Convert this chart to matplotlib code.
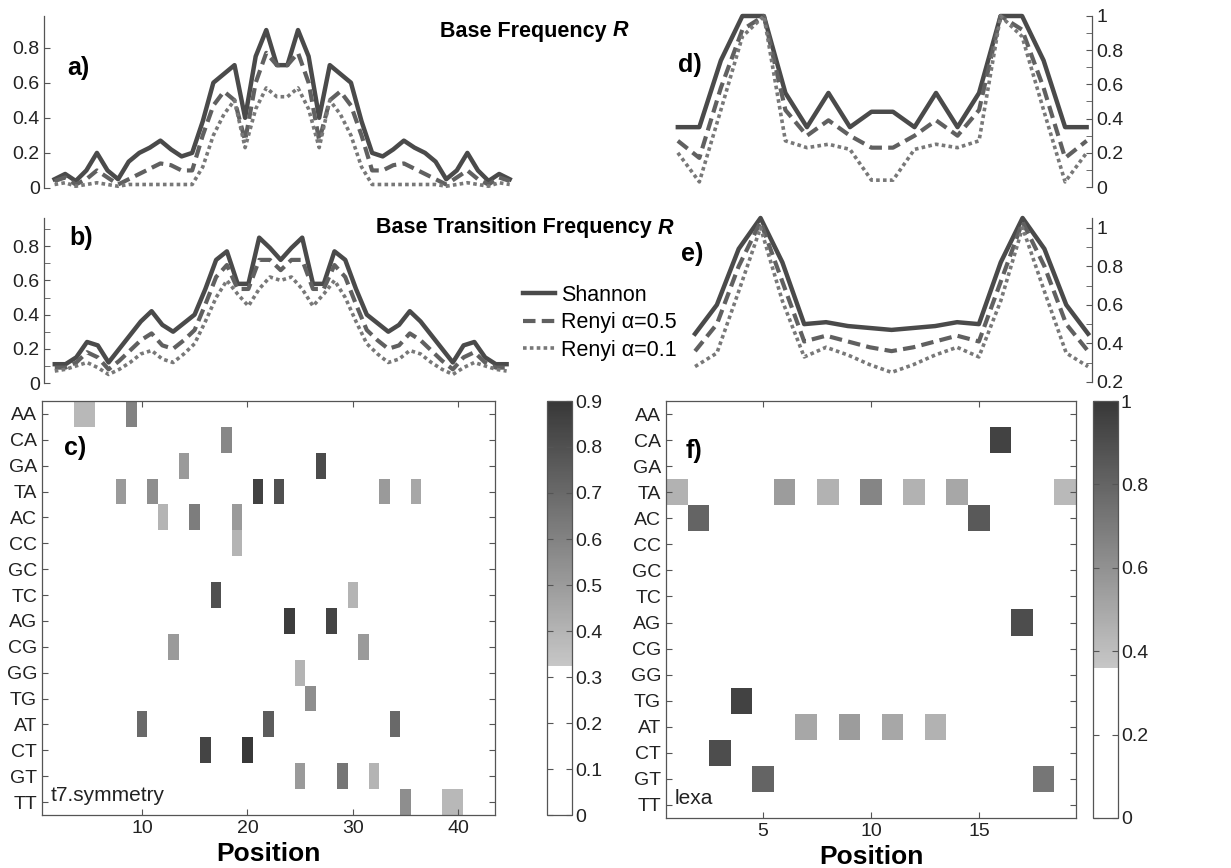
import numpy as np
import matplotlib
matplotlib.use('Agg')
import matplotlib.pyplot as plt
from matplotlib.colors import ListedColormap
from matplotlib.ticker import FuncFormatter, MultipleLocator

plt.rcParams['font.family'] = ['Liberation Sans', 'DejaVu Sans']

# ---- data ----
# base frequency R, t7.symmetry (44 positions)
a_shannon = [0.05, 0.08, 0.04, 0.1, 0.2, 0.1, 0.05, 0.15, 0.2, 0.23, 0.27, 0.22, 0.18, 0.2, 0.38,
             0.6, 0.65, 0.7, 0.4, 0.75, 0.9, 0.7, 0.7, 0.9, 0.75, 0.4, 0.7, 0.65, 0.6, 0.38,
             0.2, 0.18, 0.22, 0.27, 0.23, 0.2, 0.15, 0.05, 0.1, 0.2, 0.1, 0.04, 0.08, 0.05]
a_renyi05 = [0.04, 0.06, 0.02, 0.05, 0.1, 0.06, 0.02, 0.05, 0.08, 0.11, 0.14, 0.13, 0.1, 0.1, 0.3,
             0.47, 0.55, 0.5, 0.27, 0.6, 0.77, 0.7, 0.7, 0.77, 0.6, 0.27, 0.5, 0.55, 0.47, 0.3,
             0.1, 0.1, 0.13, 0.14, 0.11, 0.08, 0.05, 0.02, 0.06, 0.1, 0.05, 0.02, 0.06, 0.04]
a_renyi01 = [0.02, 0.03, 0.01, 0.02, 0.03, 0.02, 0.01, 0.02, 0.02, 0.02, 0.02, 0.02, 0.02, 0.02, 0.12,
             0.3, 0.42, 0.5, 0.23, 0.45, 0.57, 0.52, 0.52, 0.57, 0.45, 0.23, 0.5, 0.42, 0.3, 0.12,
             0.02, 0.02, 0.02, 0.02, 0.02, 0.02, 0.02, 0.01, 0.02, 0.03, 0.02, 0.01, 0.03, 0.02]

# base transition frequency R, t7.symmetry (43 positions)
b_shannon = [0.11, 0.11, 0.15, 0.24, 0.22, 0.12, 0.2, 0.28, 0.36, 0.42, 0.34, 0.3, 0.35, 0.4, 0.55,
             0.72, 0.77, 0.58, 0.58, 0.85, 0.79, 0.72, 0.79, 0.85, 0.58, 0.58, 0.77, 0.72, 0.55,
             0.4, 0.35, 0.3, 0.34, 0.42, 0.36, 0.28, 0.2, 0.12, 0.22, 0.24, 0.15, 0.11, 0.11]
b_renyi05 = [0.09, 0.09, 0.12, 0.18, 0.15, 0.08, 0.13, 0.19, 0.25, 0.29, 0.22, 0.2, 0.25, 0.31, 0.46,
             0.62, 0.69, 0.55, 0.55, 0.72, 0.72, 0.66, 0.72, 0.72, 0.55, 0.55, 0.69, 0.62, 0.46,
             0.31, 0.25, 0.2, 0.22, 0.29, 0.25, 0.19, 0.13, 0.08, 0.15, 0.18, 0.12, 0.09, 0.09]
b_renyi01 = [0.07, 0.08, 0.1, 0.12, 0.09, 0.05, 0.08, 0.12, 0.17, 0.19, 0.14, 0.12, 0.17, 0.23, 0.36,
             0.5, 0.6, 0.52, 0.45, 0.55, 0.62, 0.6, 0.62, 0.55, 0.45, 0.52, 0.6, 0.5, 0.36,
             0.23, 0.17, 0.12, 0.14, 0.19, 0.17, 0.12, 0.08, 0.05, 0.09, 0.12, 0.1, 0.08, 0.07]

# base frequency R, lexa (20 positions)
d_shannon = [0.35, 0.35, 0.74, 1.0, 1.0, 0.55, 0.35, 0.55, 0.35, 0.44,
             0.44, 0.35, 0.55, 0.35, 0.55, 1.0, 1.0, 0.74, 0.35, 0.35]
d_renyi05 = [0.27, 0.17, 0.58, 0.92, 1.0, 0.45, 0.3, 0.39, 0.3, 0.23,
             0.23, 0.3, 0.39, 0.3, 0.45, 1.0, 0.92, 0.58, 0.17, 0.27]
d_renyi01 = [0.2, 0.03, 0.45, 0.88, 1.0, 0.27, 0.23, 0.25, 0.22, 0.04,
             0.04, 0.22, 0.25, 0.23, 0.27, 1.0, 0.88, 0.45, 0.03, 0.2]

# base transition frequency R, lexa (19 positions)
e_shannon = [0.45, 0.6, 0.89, 1.05, 0.82, 0.5, 0.51, 0.49, 0.48, 0.47,
             0.48, 0.49, 0.51, 0.5, 0.82, 1.05, 0.89, 0.6, 0.45]
e_renyi05 = [0.36, 0.5, 0.8, 1.03, 0.72, 0.41, 0.44, 0.41, 0.38, 0.36,
             0.38, 0.41, 0.44, 0.41, 0.72, 1.03, 0.8, 0.5, 0.36]
e_renyi01 = [0.28, 0.35, 0.67, 1.0, 0.62, 0.33, 0.38, 0.34, 0.29, 0.25,
             0.29, 0.34, 0.38, 0.33, 0.62, 1.0, 0.67, 0.35, 0.28]

dinuc = ['AA', 'CA', 'GA', 'TA', 'AC', 'CC', 'GC', 'TC',
         'AG', 'CG', 'GG', 'TG', 'AT', 'CT', 'GT', 'TT']

# (dinucleotide, position, value)
c_cells = [('AA', 4, 0.38), ('AA', 5, 0.38), ('AA', 9, 0.6), ('CA', 18, 0.58),
           ('GA', 14, 0.5), ('GA', 27, 0.82), ('TA', 8, 0.5), ('TA', 11, 0.55),
           ('TA', 21, 0.86), ('TA', 23, 0.8), ('TA', 33, 0.5), ('TA', 36, 0.45),
           ('AC', 12, 0.4), ('AC', 15, 0.62), ('AC', 19, 0.5), ('CC', 19, 0.4),
           ('TC', 17, 0.8), ('TC', 30, 0.4), ('AG', 24, 0.88), ('AG', 28, 0.85),
           ('CG', 13, 0.5), ('CG', 31, 0.5), ('GG', 25, 0.4), ('TG', 26, 0.55),
           ('AT', 10, 0.7), ('AT', 22, 0.75), ('AT', 34, 0.7), ('CT', 16, 0.85),
           ('CT', 20, 0.9), ('GT', 25, 0.5), ('GT', 29, 0.65), ('GT', 32, 0.4),
           ('TT', 35, 0.55), ('TT', 39, 0.38), ('TT', 40, 0.38)]
f_cells = [('CA', 16, 0.95), ('TA', 1, 0.45), ('TA', 6, 0.55), ('TA', 8, 0.45),
           ('TA', 10, 0.65), ('TA', 12, 0.45), ('TA', 14, 0.5), ('TA', 19, 0.42),
           ('AC', 2, 0.8), ('AC', 15, 0.85), ('AG', 17, 0.9), ('TG', 4, 0.95),
           ('AT', 7, 0.5), ('AT', 9, 0.55), ('AT', 11, 0.5), ('AT', 13, 0.45),
           ('CT', 3, 0.9), ('GT', 5, 0.8), ('GT', 18, 0.72)]

labels = ['Shannon', 'Renyi \u03b1=0.5', 'Renyi \u03b1=0.1']

# ---- drawing ----
W, H = 1231, 868
fig = plt.figure(figsize=(W / 100, H / 100), dpi=100)


def box(l, t, r, b):
    return [l / W, 1 - b / H, (r - l) / W, (b - t) / H]


fmt = FuncFormatter(lambda v, p: '%g' % round(v, 2))
spine_col = '#555555'
styles = [dict(color='#4a4a4a', lw=3.2, ls='-'),
          dict(color='#606060', lw=3.0, ls=(0, (3, 1.5))),
          dict(color='#787878', lw=2.6, ls=(0, (1, 0.9)))]


def line_panel(rect, series, xlim, ylim, side, major, minor):
    ax = fig.add_axes(rect)
    x = np.arange(1, len(series[0]) + 1)
    hs = []
    for s, st, lab in zip(series, styles, labels):
        h, = ax.plot(x, s, label=lab, clip_on=False, **st)
        hs.append(h)
    ax.set_xlim(*xlim)
    ax.set_ylim(*ylim)
    for k in ['top', 'bottom', 'left', 'right']:
        ax.spines[k].set_visible(k == side)
    ax.spines[side].set_color(spine_col)
    ax.spines[side].set_linewidth(0.9)
    ax.set_xticks([])
    ax.yaxis.set_ticks_position(side)
    ax.yaxis.set_major_locator(MultipleLocator(major))
    if minor:
        ax.yaxis.set_minor_locator(MultipleLocator(minor))
    ax.yaxis.set_major_formatter(fmt)
    ax.tick_params(axis='y', which='both', direction='in', colors=spine_col,
                   labelcolor='#222222', labelsize=14, length=4, pad=3)
    ax.patch.set_alpha(0)
    return ax, hs


ax_a, _ = line_panel(box(44, 16, 515, 188), [a_shannon, a_renyi05, a_renyi01],
                     (0, 44.5), (0, 0.98), 'left', 0.2, None)
ax_b, hs = line_panel(box(44, 218, 512, 383), [b_shannon, b_renyi05, b_renyi01],
                      (0, 43.5), (0, 0.965), 'left', 0.2, 0.1)
ax_d, _ = line_panel(box(666, 16, 1092, 187), [d_shannon, d_renyi05, d_renyi01],
                     (0.45, 20.25), (0, 1.0), 'right', 0.2, 0.1)
ax_e, _ = line_panel(box(666, 218, 1092, 382), [e_shannon, e_renyi05, e_renyi01],
                     (-0.33, 19.18), (0.2, 1.05), 'right', 0.2, 0.1)

cmap_vals = np.linspace(0, 1, 256)
g = np.where(cmap_vals < 0.36, 1.0, 0.78 - (cmap_vals - 0.36) / 0.64 * 0.56)
cmap = ListedColormap(np.c_[g, g, g])


def heat_panel(rect, crect, cells, npos, vmax, xticks, cticks, name):
    ax = fig.add_axes(rect)
    m = np.zeros((len(dinuc), npos))
    for d, p, v in cells:
        m[dinuc.index(d), p - 1] = v
    im = ax.imshow(m, cmap=cmap, vmin=0, vmax=vmax, aspect='auto',
                   interpolation='nearest', extent=(0.5, npos + 0.5, len(dinuc) + 0.5, 0.5))
    ax.set_yticks(np.arange(1, len(dinuc) + 1))
    ax.set_yticklabels(dinuc)
    ax.set_xticks(xticks)
    ax.tick_params(which='both', direction='in', top=True, right=True, colors=spine_col,
                   labelcolor='#222222', labelsize=14, length=4)
    for s in ax.spines.values():
        s.set_color(spine_col)
        s.set_linewidth(0.9)
    ax.set_xlabel('Position', fontsize=19, fontweight='bold', labelpad=4)
    ax.text(0.02, 0.025, name, transform=ax.transAxes, fontsize=15, color='#222222',
            ha='left', va='bottom')
    cax = fig.add_axes(crect)
    cb = fig.colorbar(im, cax=cax, ticks=cticks, format=fmt)
    cb.outline.set_edgecolor(spine_col)
    cb.outline.set_linewidth(0.9)
    cax.tick_params(direction='in', left=True, right=True, colors=spine_col,
                    labelcolor='#222222', labelsize=14, length=4, pad=2)
    return ax


ax_c = heat_panel(box(42, 401, 495, 815), box(547, 401, 572, 815), c_cells, 43, 0.9,
                  [10, 20, 30, 40], np.arange(0, 0.95, 0.1), 't7.symmetry')
ax_f = heat_panel(box(666, 401, 1076, 818), box(1093, 401, 1118, 818), f_cells, 19, 1.0,
                  [5, 10, 15], np.arange(0, 1.05, 0.2), 'lexa')

# panel letters
for lab, (px, py) in zip(['a)', 'b)', 'c)', 'd)', 'e)', 'f)'],
                         [(67, 68), (69, 238), (64, 448), (678, 65), (681, 254), (686, 451)]):
    fig.text(px / W, 1 - py / H, lab, fontsize=18, fontweight='bold', ha='left', va='center')

# titles with italic R
for txt, (px, py) in [('Base Frequency ', (440, 31)), ('Base Transition Frequency ', (376, 228))]:
    t1 = fig.text(px / W, 1 - py / H, txt, fontsize=15.5, fontweight='bold', ha='left', va='center')
    ax_a.annotate('R', xy=(1, 0.5), xycoords=t1, fontsize=15.5, fontweight='bold', style='italic',
                  ha='left', va='center', annotation_clip=False)

fig.legend(handles=hs, labels=labels, loc='upper left', bbox_to_anchor=(523 / W, 1 - 285 / H),
           frameon=False, fontsize=15.5, handlelength=1.5, handletextpad=0.25,
           labelspacing=0.3, borderpad=0, borderaxespad=0)

fig.savefig('out.png', dpi=100)
